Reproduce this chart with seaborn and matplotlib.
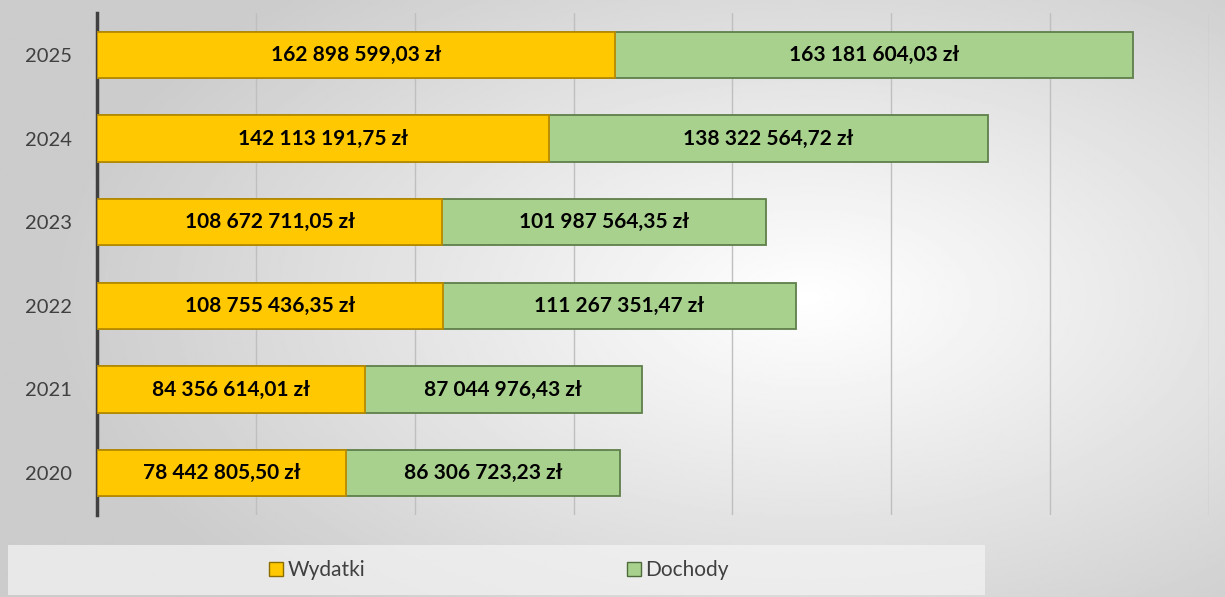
import numpy as np
import pandas as pd
import matplotlib
matplotlib.use('Agg')
import matplotlib.pyplot as plt
import seaborn as sns
from matplotlib.patches import Rectangle

# dane
lata = ['2025', '2024', '2023', '2022', '2021', '2020']
wydatki = [162898599.03, 142113191.75, 108672711.05, 108755436.35, 84356614.01, 78442805.50]
dochody = [163181604.03, 138322564.72, 101987564.35, 111267351.47, 87044976.43, 86306723.23]

sns.set_theme(style='white')
plt.rcParams['font.family'] = ['Lato', 'DejaVu Sans']

df = pd.DataFrame({'rok': lata, 'Wydatki': wydatki, 'Dochody': dochody})
df['suma'] = df['Wydatki'] + df['Dochody']


def fmt(v):
    s = f'{v:,.2f}'.replace(',', ' ').replace('.', ',')
    return s + ' zł'


fig = plt.figure(figsize=(12.25, 5.97), dpi=100)

# tło z gradientem
bg = fig.add_axes([0, 0, 1, 1], zorder=-10)
yy, xx = np.mgrid[0:1:300j, 0:1:600j]
d = np.sqrt(((xx - 0.66) / 0.8) ** 2 + ((yy - 0.5) / 0.9) ** 2)
val = np.clip(1.0 - 0.26 * d, 0.8, 1.0)
bg.imshow(val, cmap='gray', vmin=0, vmax=1, aspect='auto', extent=[0, 1, 0, 1], origin='upper')
bg.axis('off')

ax = fig.add_axes([97 / 1225, 1 - 515 / 597, 1112 / 1225, 502 / 597])
ax.set_facecolor('none')

zolty = '#FFC800'
zielony = '#A9D18E'

sns.barplot(data=df, x='suma', y='rok', order=lata, orient='h', color=zielony,
            saturation=1, width=0.55, edgecolor='#5E7F4A', linewidth=1.3, ax=ax, zorder=3)
sns.barplot(data=df, x='Wydatki', y='rok', order=lata, orient='h', color=zolty,
            saturation=1, width=0.55, edgecolor='#B88A00', linewidth=1.3, ax=ax, zorder=4)

# etykiety wartości
for i, (w, d_) in enumerate(zip(wydatki, dochody)):
    ax.text(w / 2, i, fmt(w), ha='center', va='center', fontsize=15,
            fontweight='bold', color='black', zorder=5)
    ax.text(w + d_ / 2, i, fmt(d_), ha='center', va='center', fontsize=15,
            fontweight='bold', color='black', zorder=5)

ax.set_xlim(0, 350e6)
ax.set_ylim(5.5, -0.5)
ax.set_xticks(np.arange(0, 350e6 + 1, 50e6))
ax.set_xticklabels([])
ax.xaxis.grid(True, color='#BFBFBF', linewidth=1)
ax.set_axisbelow(True)
ax.set_xlabel('')
ax.set_ylabel('')
for s in ['top', 'right', 'bottom']:
    ax.spines[s].set_visible(False)
ax.spines['left'].set_color('#404040')
ax.spines['left'].set_linewidth(2.5)
ax.tick_params(axis='y', length=0, pad=18, labelsize=14.5, labelcolor='#404040')
ax.tick_params(axis='x', length=0)

# legenda
fig.patches.append(Rectangle((8 / 1225, 2 / 597), 977 / 1225, 50 / 597,
                             transform=fig.transFigure, facecolor='#F4F4F4',
                             alpha=0.7, edgecolor='none', zorder=0))
uchwyty = [Rectangle((0, 0), 1, 1, facecolor=zolty, edgecolor='#8C6D00'),
           Rectangle((0, 0), 1, 1, facecolor=zielony, edgecolor='#4F6B3C')]
fig.legend(uchwyty, ['Wydatki', 'Dochody'], loc='center', ncol=2,
           bbox_to_anchor=(499 / 1225, 1 - 570 / 597), frameon=False,
           fontsize=15, handlelength=0.65, handleheight=0.65, handletextpad=0.2,
           columnspacing=12.6, labelcolor='#404040')

fig.savefig('out.png', dpi=100)
